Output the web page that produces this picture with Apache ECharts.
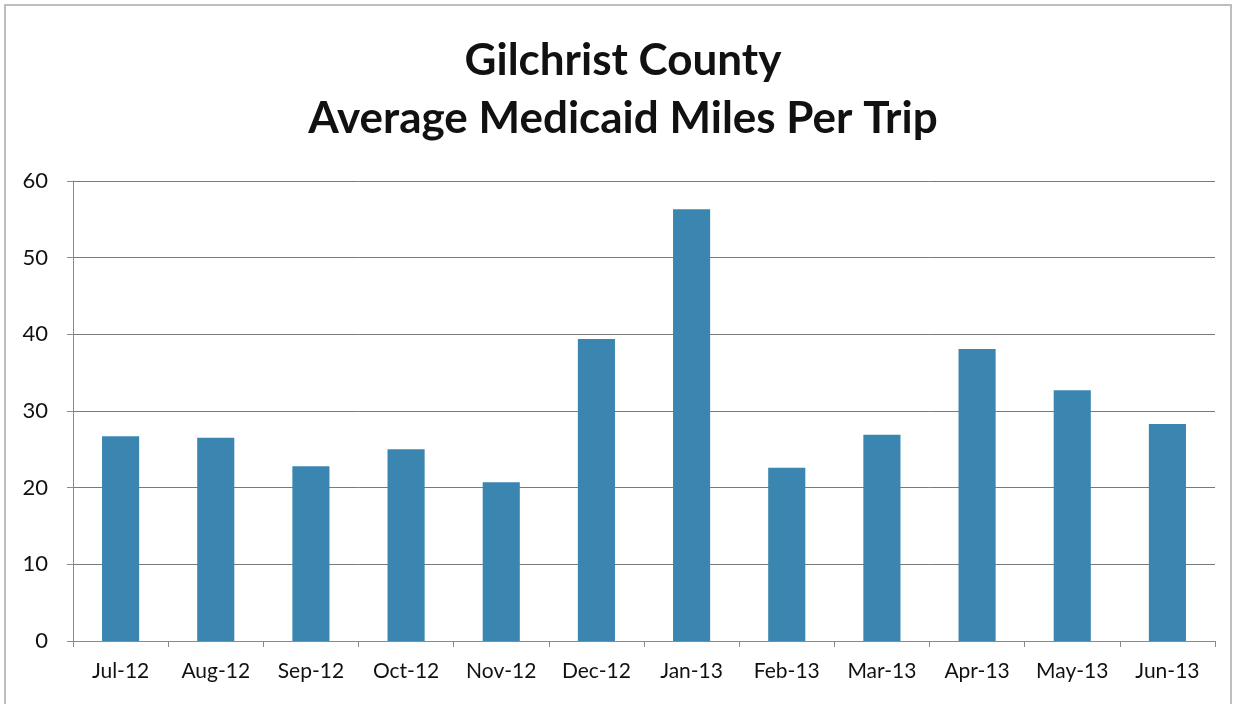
<!DOCTYPE html>
<html><head><meta charset="utf-8">
<script src="https://cdn.jsdelivr.net/npm/echarts@6/dist/echarts.min.js"></script>
<style>
html,body{margin:0;padding:0;background:#fff;}
#frame{position:absolute;left:4px;top:4px;width:1228px;height:700px;border:2px solid #bdbdbd;border-bottom:none;box-sizing:border-box;}
#c{position:absolute;left:0;top:0;width:1246px;height:704px;}
</style>
</head><body>
<div id="frame"></div>
<div id="c"></div>
<script>
const titleLines = ["Gilchrist County", "Average Medicaid Miles Per Trip"];
const categories = ["Jul-12","Aug-12","Sep-12","Oct-12","Nov-12","Dec-12","Jan-13","Feb-13","Mar-13","Apr-13","May-13","Jun-13"];
const milesPerTrip = [26.7, 26.5, 22.8, 25.0, 20.7, 39.4, 56.3, 22.6, 26.9, 38.1, 32.7, 28.3];
const yTicks = {min: 0, max: 60, interval: 10};

const chart = echarts.init(document.getElementById('c'), null, {renderer: 'canvas'});
chart.setOption({
  animation: false,
  title: {
    text: titleLines.join('\n'),
    left: 'center',
    top: 27,
    textStyle: {fontFamily: 'Lato', fontWeight: 'bold', fontSize: 44, color: '#111', lineHeight: 58}
  },
  grid: {left: 73, right: 31, top: 181, bottom: 63, containLabel: false},
  xAxis: {
    type: 'category',
    data: categories,
    axisLine: {lineStyle: {color: '#8a8a8a', width: 1}},
    axisTick: {show: true, length: 6, lineStyle: {color: '#8a8a8a'}},
    axisLabel: {interval: 0, fontFamily: 'Lato', fontSize: 21, color: '#111', margin: 20}
  },
  yAxis: {
    type: 'value',
    min: yTicks.min, max: yTicks.max, interval: yTicks.interval,
    axisLine: {show: true, lineStyle: {color: '#8a8a8a', width: 1}},
    axisTick: {show: true, length: 6, lineStyle: {color: '#8a8a8a'}},
    axisLabel: {fontFamily: 'Lato', fontSize: 22, color: '#111', margin: 25},
    splitLine: {lineStyle: {color: '#7a7a7a', width: 1}}
  },
  series: [{
    type: 'bar',
    data: milesPerTrip,
    barWidth: '39%',
    itemStyle: {color: '#3a86b0'}
  }]
});
</script>
</body></html>
